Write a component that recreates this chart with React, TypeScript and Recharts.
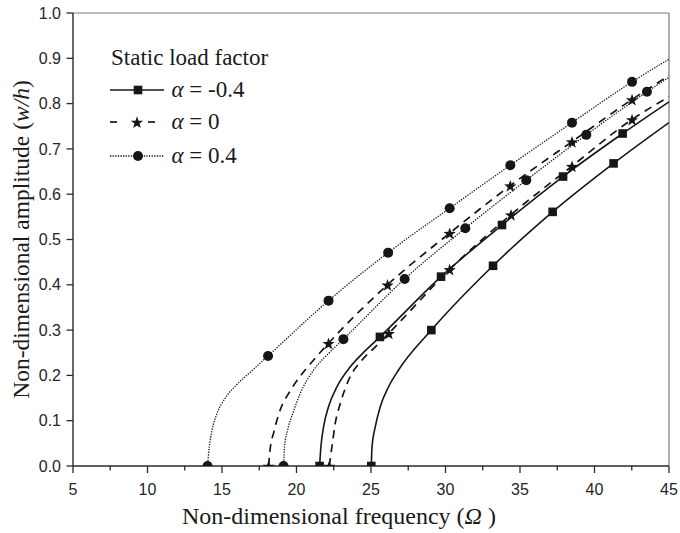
import React from 'react';
import { ComposedChart, Line, Scatter, XAxis, YAxis, ReferenceLine, Legend, Label } from 'recharts';

// ---- axis ticks ----
const X_TICKS = [5, 7.5, 10, 12.5, 15, 17.5, 20, 22.5, 25, 27.5, 30, 32.5, 35, 37.5, 40, 42.5, 45];
const Y_TICKS = [0, 0.1, 0.2, 0.3, 0.4, 0.5, 0.6, 0.7, 0.8, 0.9, 1.0];

// ---- legend text ----
const LEGEND_TITLE = 'Static load factor';
const ALPHA_VALUES = ['-0.4', '0', '0.4'];

// ---- alpha = -0.4, first branch (solid, squares) ----
const NEG_L_W = [21.55, 21.64, 21.82, 22.15, 22.72, 23.61, 24.6, 25.6, 29.7, 33.79, 37.89, 41.89, 45];
const NEG_L_A = [0, 0.043, 0.087, 0.131, 0.175, 0.219, 0.254, 0.285, 0.418, 0.532, 0.639, 0.734, 0.804];
const NEG_L_MW = [21.55, 25.6, 29.7, 33.79, 37.89, 41.89];
const NEG_L_MA = [0, 0.285, 0.418, 0.532, 0.639, 0.734];

// ---- alpha = -0.4, second branch ----
const NEG_R_W = [25.02, 25.07, 25.29, 25.62, 26.18, 26.85, 29.05, 33.19, 37.19, 41.28, 45];
const NEG_R_A = [0, 0.043, 0.087, 0.131, 0.175, 0.212, 0.3, 0.442, 0.561, 0.668, 0.758];
const NEG_R_MW = [25.02, 29.05, 33.19, 37.19, 41.28];
const NEG_R_MA = [0, 0.3, 0.442, 0.561, 0.668];

// ---- alpha = 0, first branch (dashed, stars) ----
const ZERO_L_W = [18.13, 18.2, 18.51, 18.91, 19.54, 20.2, 21.15, 22.15, 26.11, 30.28, 34.35, 38.49, 42.52, 45];
const ZERO_L_A = [0, 0.028, 0.079, 0.124, 0.164, 0.196, 0.234, 0.271, 0.4, 0.514, 0.619, 0.716, 0.809, 0.862];
const ZERO_L_MW = [18.13, 22.15, 26.11, 30.28, 34.35, 38.49, 42.52];
const ZERO_L_MA = [0, 0.271, 0.4, 0.514, 0.619, 0.716, 0.809];

// ---- alpha = 0, second branch ----
const ZERO_R_W = [22.2, 22.38, 22.6, 22.94, 23.5, 24.4, 25.29, 26.2, 30.28, 34.4, 38.49, 42.52, 45];
const ZERO_R_A = [0, 0.043, 0.094, 0.138, 0.19, 0.234, 0.263, 0.293, 0.434, 0.555, 0.662, 0.765, 0.815];
const ZERO_R_MW = [22.2, 26.2, 30.28, 34.4, 38.49, 42.52];
const ZERO_R_MA = [0, 0.293, 0.434, 0.555, 0.662, 0.765];

// ---- alpha = 0.4, first branch (dotted, circles) ----
const POS_L_W = [14.03, 14.15, 14.33, 14.66, 15.22, 16.0, 16.9, 18.09, 22.15, 26.15, 30.28, 34.35, 38.49, 42.52, 45];
const POS_L_A = [0, 0.043, 0.079, 0.116, 0.15, 0.18, 0.207, 0.243, 0.365, 0.471, 0.569, 0.664, 0.758, 0.848, 0.898];
const POS_L_MW = [14.03, 18.09, 22.15, 26.15, 30.28, 34.35, 38.49, 42.52];
const POS_L_MA = [0, 0.243, 0.365, 0.471, 0.569, 0.664, 0.758, 0.848];

// ---- alpha = 0.4, second branch ----
const POS_R_W = [19.13, 19.2, 19.4, 19.75, 20.25, 21.15, 22.2, 23.15, 27.26, 31.33, 35.42, 39.45, 43.52, 45];
const POS_R_A = [0, 0.043, 0.079, 0.116, 0.16, 0.212, 0.25, 0.28, 0.413, 0.525, 0.631, 0.731, 0.826, 0.858];
const POS_R_MW = [19.13, 23.15, 27.26, 31.33, 35.42, 39.45, 43.52];
const POS_R_MA = [0, 0.28, 0.413, 0.525, 0.631, 0.731, 0.826];

const toPts = (w: number[], a: number[]) => w.map((v, i) => ({ w: v, a: a[i] }));

const INK = '#161616';
const AXIS = '#2a2a2a';
const SERIF = '"Liberation Serif", "Times New Roman", serif';
const SANS = '"Liberation Sans", Arial, sans-serif';

type Kind = 'square' | 'star' | 'circle';

const STYLE: Record<Kind, { dash?: string; sw: number }> = {
  square: { dash: undefined, sw: 1.6 },
  star: { dash: '8 6', sw: 1.7 },
  circle: { dash: '1.3 1.3', sw: 1.3 },
};

const SERIES: { id: string; kind: Kind; w: number[]; a: number[]; mw: number[]; ma: number[] }[] = [
  { id: 'negL', kind: 'square', w: NEG_L_W, a: NEG_L_A, mw: NEG_L_MW, ma: NEG_L_MA },
  { id: 'negR', kind: 'square', w: NEG_R_W, a: NEG_R_A, mw: NEG_R_MW, ma: NEG_R_MA },
  { id: 'zeroL', kind: 'star', w: ZERO_L_W, a: ZERO_L_A, mw: ZERO_L_MW, ma: ZERO_L_MA },
  { id: 'zeroR', kind: 'star', w: ZERO_R_W, a: ZERO_R_A, mw: ZERO_R_MW, ma: ZERO_R_MA },
  { id: 'posL', kind: 'circle', w: POS_L_W, a: POS_L_A, mw: POS_L_MW, ma: POS_L_MA },
  { id: 'posR', kind: 'circle', w: POS_R_W, a: POS_R_A, mw: POS_R_MW, ma: POS_R_MA },
];

function starPath(cx: number, cy: number, R: number, r: number) {
  let d = '';
  for (let i = 0; i < 10; i++) {
    const ang = (-90 + i * 36) * Math.PI / 180;
    const rad = i % 2 === 0 ? R : r;
    const x = cx + rad * Math.cos(ang);
    const y = cy + rad * Math.sin(ang);
    d += (i === 0 ? 'M' : 'L') + x.toFixed(2) + ',' + y.toFixed(2);
  }
  return d + 'Z';
}

function Marker({ kind, cx, cy }: { kind: Kind; cx: number; cy: number }) {
  if (kind === 'square') return <rect x={cx - 4.3} y={cy - 4.3} width={8.6} height={8.6} fill={INK} />;
  if (kind === 'circle') return <circle cx={cx} cy={cy} r={5} fill={INK} />;
  return <path d={starPath(cx, cy + 0.8, 6.5, 2.6)} fill={INK} />;
}

const makeShape = (kind: Kind) => (props: any) => {
  const { cx, cy } = props;
  if (cx == null || cy == null) return <g />;
  return <Marker kind={kind} cx={cx} cy={cy} />;
};

const renderXTick = (props: any) => {
  const { x, y, payload } = props;
  const v = payload.value as number;
  const major = Math.abs(v / 5 - Math.round(v / 5)) < 1e-6;
  return (
    <g>
      <line x1={x} x2={x} y1={y} y2={y + (major ? 7 : 4.5)} stroke={AXIS} strokeWidth={1.3} />
      {major && (
        <text x={x} y={y + 29} textAnchor="middle" fontFamily={SANS} fontSize={16} fill="#262626">
          {v}
        </text>
      )}
    </g>
  );
};

const renderYTick = (props: any) => {
  const { x, y, payload } = props;
  const v = payload.value as number;
  return (
    <g>
      <line x1={x - 6.5} x2={x} y1={y} y2={y} stroke={AXIS} strokeWidth={1.3} />
      <text x={x - 12} y={y + 5.6} textAnchor="end" fontFamily={SANS} fontSize={16} fill="#262626">
        {v.toFixed(1)}
      </text>
    </g>
  );
};

const XTitle = () => (
  <text x={182} y={524} fontFamily={SERIF} fontSize={24} fill="#1a1a1a">
    Non-dimensional frequency (<tspan fontStyle="italic">Ω</tspan> )
  </text>
);

const YTitle = () => (
  <text
    x={0}
    y={0}
    transform="translate(28.5,239.5) rotate(-90)"
    textAnchor="middle"
    fontFamily={SERIF}
    fontSize={23.5}
    fill="#1a1a1a"
  >
    Non-dimensional amplitude (<tspan fontStyle="italic">w/h</tspan>)
  </text>
);

const ROW_Y = [90, 122, 156];
const ROW_KINDS: Kind[] = ['square', 'star', 'circle'];

const LegendBox = () => (
  <div style={{ position: 'relative', width: 300, height: 180, fontFamily: SERIF, color: '#1a1a1a' }}>
    <div
      style={{ position: 'absolute', left: 111, top: 57.5 - 14, fontSize: 23, lineHeight: '28px', whiteSpace: 'nowrap' }}
    >
      {LEGEND_TITLE}
    </div>
    {ROW_KINDS.map((kind, i) => {
      const st = STYLE[kind];
      return (
        <React.Fragment key={kind}>
          <svg
            width={60}
            height={20}
            style={{ position: 'absolute', left: 110, top: ROW_Y[i] - 10, overflow: 'visible' }}
          >
            {kind === 'star' ? (
              <g>
                <line x1={0} x2={7} y1={10} y2={10} stroke={INK} strokeWidth={st.sw} />
                <line x1={38} x2={45} y1={10} y2={10} stroke={INK} strokeWidth={st.sw} />
              </g>
            ) : (
              <line x1={0} x2={54} y1={10} y2={10} stroke={INK} strokeWidth={st.sw} strokeDasharray={st.dash} />
            )}
            <Marker kind={kind} cx={kind === 'star' ? 27 : 28} cy={10} />
          </svg>
          <div
            style={{
              position: 'absolute',
              left: 171.5,
              top: ROW_Y[i] - 14,
              fontSize: 23,
              lineHeight: '28px',
              whiteSpace: 'nowrap',
            }}
          >
            <i>α</i> = {ALPHA_VALUES[i]}
          </div>
        </React.Fragment>
      );
    })}
  </div>
);

export default function App() {
  return (
    <div style={{ position: 'fixed', left: 0, top: 0, width: 680, height: 533, overflow: 'hidden', background: '#fff' }}>
      <ComposedChart width={680} height={533} margin={{ top: 13, right: 11, bottom: 0, left: 0 }}>
        <XAxis
          type="number"
          dataKey="w"
          domain={[5, 45]}
          ticks={X_TICKS}
          interval={0}
          tickSize={0}
          tickMargin={0}
          tickLine={false}
          tick={renderXTick}
          axisLine={{ stroke: AXIS, strokeWidth: 1.4 }}
          height={67}
          allowDataOverflow
          label={<Label content={XTitle} />}
        />
        <YAxis
          type="number"
          dataKey="a"
          domain={[0, 1]}
          ticks={Y_TICKS}
          interval={0}
          tickSize={0}
          tickMargin={0}
          tickLine={false}
          tick={renderYTick}
          axisLine={{ stroke: AXIS, strokeWidth: 1.4 }}
          width={73}
          allowDataOverflow
          label={<Label content={YTitle} />}
        />
        <ReferenceLine y={1} stroke="#7a7a7a" strokeWidth={1.2} />
        <ReferenceLine x={45} stroke="#7a7a7a" strokeWidth={1.2} />
        {SERIES.map((s) => (
          <Line
            key={s.id + '-line'}
            data={toPts(s.w, s.a)}
            dataKey="a"
            type="monotone"
            stroke={INK}
            strokeWidth={STYLE[s.kind].sw}
            strokeDasharray={STYLE[s.kind].dash}
            dot={false}
            activeDot={false}
            isAnimationActive={false}
            legendType="none"
          />
        ))}
        {SERIES.map((s) => (
          <Scatter
            key={s.id + '-mk'}
            data={toPts(s.mw, s.ma)}
            dataKey="a"
            shape={makeShape(s.kind)}
            isAnimationActive={false}
            legendType="none"
          />
        ))}
        <Legend
          content={LegendBox}
          layout="horizontal"
          verticalAlign="middle"
          align="center"
          wrapperStyle={{ position: 'absolute', left: 0, top: 0, width: 300, height: 180 }}
        />
      </ComposedChart>
    </div>
  );
}
